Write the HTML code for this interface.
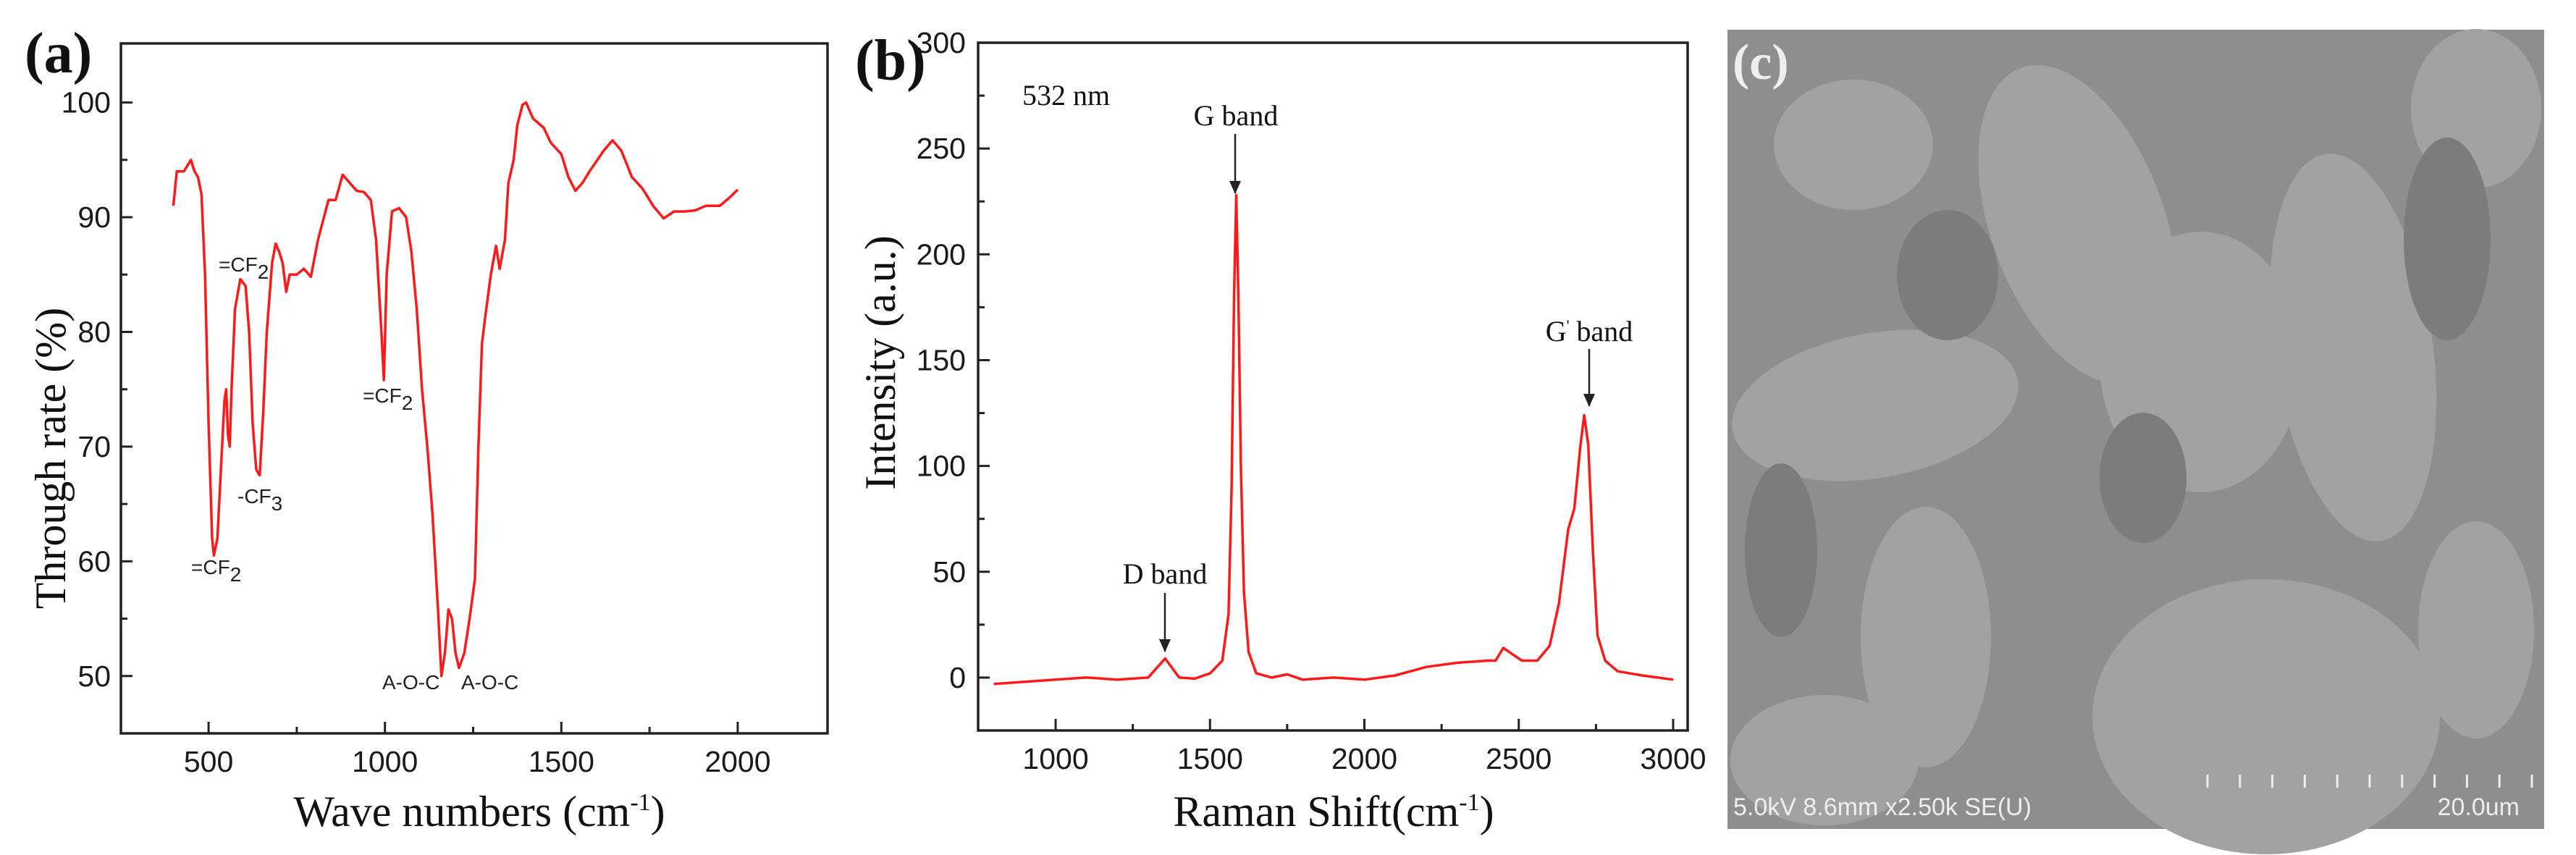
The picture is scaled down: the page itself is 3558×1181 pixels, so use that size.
<!DOCTYPE html>
<html><head><meta charset="utf-8">
<style>
html,body{margin:0;padding:0;background:#fff;}
svg{display:block;}
.tk{font-family:"Liberation Sans",sans-serif;font-size:41px;fill:#1a1a1a;}
.ttl{font-family:"Liberation Serif",serif;font-size:60px;fill:#111;}
.ann{font-family:"Liberation Sans",sans-serif;font-size:28px;fill:#222;}
.anr{font-family:"Liberation Serif",serif;font-size:40px;fill:#111;}
.pl{font-family:"Liberation Serif",serif;font-weight:bold;font-size:80px;fill:#111;}
</style></head>
<body>
<svg id="fig" width="3558" height="1181" viewBox="0 0 3558 1181" xmlns="http://www.w3.org/2000/svg">
<defs><marker id="ah" markerWidth="18" markerHeight="16" refX="17" refY="8" orient="auto" markerUnits="userSpaceOnUse"><path d="M0,0 L18,8 L0,16 Z" fill="#222"/></marker></defs>
<g id="pa"></g>
<g id="pb"></g>
<g id="pc">
<rect x="2386" y="41" width="1128" height="1104" fill="#8e8e8e"/>
<g fill="#a2a2a2">
<ellipse cx="2870" cy="310" rx="120" ry="230" transform="rotate(-20 2870 310)"/>
<ellipse cx="3250" cy="480" rx="110" ry="270" transform="rotate(-8 3250 480)"/>
<ellipse cx="3130" cy="990" rx="240" ry="190"/>
<ellipse cx="2590" cy="560" rx="200" ry="100" transform="rotate(-10 2590 560)"/>
<ellipse cx="3040" cy="500" rx="140" ry="180"/>
<ellipse cx="2560" cy="200" rx="110" ry="90"/>
<ellipse cx="3420" cy="150" rx="90" ry="110"/>
<ellipse cx="2660" cy="880" rx="90" ry="180"/>
<ellipse cx="3420" cy="870" rx="80" ry="150"/>
<ellipse cx="2520" cy="1050" rx="130" ry="90"/>
</g>
<g fill="#7c7c7c">
<ellipse cx="2690" cy="380" rx="70" ry="90"/>
<ellipse cx="2960" cy="660" rx="60" ry="90"/>
<ellipse cx="3380" cy="330" rx="60" ry="140"/>
<ellipse cx="2460" cy="760" rx="50" ry="120"/>
</g>
<text x="2393" y="109" class="pl" style="fill:#eee;font-size:70px">(c)</text>
<text x="2394" y="1126" style="font-family:'Liberation Sans',sans-serif;font-size:34px;fill:#eee">5.0kV 8.6mm x2.50k SE(U)</text>
<text x="3480" y="1126" text-anchor="end" style="font-family:'Liberation Sans',sans-serif;font-size:34px;fill:#eee">20.0um</text>
<g id="sb" stroke="#eee" stroke-width="3"></g>
</g>
</svg>
<script>
// ---- FTIR data (panel a)
const ftirX=[400,410,430,450,460,470,480,490,500,510,515,525,535,545,550,555,560,565,575,590,605,615,625,635,645,655,665,680,690,700,710,720,730,750,770,790,810,840,860,880,900,920,940,960,975,990,997,1005,1020,1040,1060,1075,1090,1105,1120,1135,1150,1160,1170,1180,1190,1200,1210,1225,1240,1255,1265,1275,1285,1300,1315,1325,1340,1350,1365,1375,1390,1400,1420,1450,1470,1500,1520,1540,1560,1580,1620,1645,1670,1700,1730,1760,1790,1820,1850,1880,1910,1950,1980,2000];
const ftirY=[91,94,94,95,94,93.5,92,85,72,62,60.5,62,68,74,75,71,70,75,82,84.6,84,80,72,68,67.5,73,80,86,87.7,87,86,83.5,85,85,85.5,84.8,88,91.5,91.5,93.7,93,92.3,92.2,91.5,88,80,75.8,85,90.5,90.8,90,87,82,75,70,64,56,50,52,55.8,55,52,50.7,52,55,58.5,70,79,81.5,85,87.5,85.5,88,93,95,98,99.8,100,98.6,97.8,96.5,95.5,93.5,92.3,93,94,95.8,96.7,95.8,93.5,92.5,91,89.9,90.5,90.5,90.6,91,91,91.8,92.4];
const ftirXTicks=[500,1000,1500,2000];
const ftirYTicks=[50,60,70,80,90,100];
// ---- Raman data (panel b)
const ramX=[800,900,1000,1100,1200,1300,1330,1355,1375,1400,1450,1500,1540,1560,1570,1578,1585,1592,1600,1610,1625,1650,1700,1750,1800,1900,2000,2100,2200,2300,2400,2425,2450,2480,2510,2560,2600,2630,2660,2680,2700,2712,2725,2740,2755,2780,2820,2900,3000];
const ramY=[-3,-2,-1,0,-1,0,5,9,5,0,-0.5,2,8,30,90,180,228,180,100,40,12,2,0,1.5,-1,0,-1,1,5,7,8,8,14,11,8,8,15,35,70,80,110,124,110,60,20,8,3,1,-1];
const ramXTicks=[1000,1500,2000,2500,3000];
const ramYTicks=[0,50,100,150,200,250,300];

const NS='http://www.w3.org/2000/svg';
function mk(parent,tag,attrs,text){const e=document.createElementNS(NS,tag);for(const k in attrs)e.setAttribute(k,attrs[k]);if(text!==undefined)e.textContent=text;parent.appendChild(e);return e;}

function panel(g,box,xd,yd,xt,xminor,yt,yminor,xs,ys,xlabY,ylabX){
  const sx=v=>box.l+(v-xd[0])/(xd[1]-xd[0])*(box.r-box.l);
  const sy=v=>box.b-(v-yd[0])/(yd[1]-yd[0])*(box.b-box.t);
  const frame=mk(g,'rect',{x:box.l,y:box.t,width:box.r-box.l,height:box.b-box.t,fill:'none',stroke:'#222','stroke-width':3.5});
  
  
  xt.forEach(v=>{const l=mk(g,'line',{x1:sx(v),x2:sx(v),y1:box.b,y2:box.b-16,stroke:'#222','stroke-width':3});
    
    
    const t=mk(g,'text',{x:sx(v),y:xlabY,'text-anchor':'middle',class:'tk'},String(v));
    
    });
  xminor.forEach(v=>{const l=mk(g,'line',{x1:sx(v),x2:sx(v),y1:box.b,y2:box.b-9,stroke:'#222','stroke-width':3});
    
    });
  yt.forEach(v=>{const l=mk(g,'line',{x1:box.l,x2:box.l+16,y1:sy(v),y2:sy(v),stroke:'#222','stroke-width':3});
    
    
    const t=mk(g,'text',{x:ylabX,y:sy(v)+14,'text-anchor':'end',class:'tk'},String(v));
    
    });
  yminor.forEach(v=>{const l=mk(g,'line',{x1:box.l,x2:box.l+9,y1:sy(v),y2:sy(v),stroke:'#222','stroke-width':3});
    
    });
  let d='';xs.forEach((v,i)=>{d+=(i?'L':'M')+sx(v).toFixed(1)+','+sy(ys[i]).toFixed(1);});
  const p=mk(g,'path',{d:d,fill:'none',stroke:'#ff1a1a','stroke-width':3.5,'stroke-linejoin':'round'});
  
  
  return {sx,sy};
}

const ga=document.getElementById('pa');
panel(ga,{l:167,r:1143,t:60,b:1013},[251.5,2254.6],[45,105.15],ftirXTicks,[750,1250,1750],ftirYTicks,[55,65,75,85,95],ftirX,ftirY,1066,153);
const gb=document.getElementById('pb');
panel(gb,{l:1351,r:2331,t:59,b:1009},[749,3047],[-25,300],ramXTicks,[1250,1750,2250,2750],ramYTicks,[25,75,125,175,225,275],ramX,ramY,1062,1334);

function txt(g,x,y,cls,s,name,anchor,extra){const t=mk(g,'text',Object.assign({x:x,y:y,class:cls,'text-anchor':anchor||'start'},extra||{}));t.innerHTML=s;
  
  return t;}
// panel a texts
txt(ga,34,100,'pl','(a)','panel-label-a');
txt(ga,662,1141,'ttl','Wave numbers (cm<tspan dy="-22" font-size="34">-1</tspan><tspan dy="22">)</tspan>','x-axis-title','middle');
txt(ga,0,0,'ttl','Through rate (%)','y-axis-title','middle',{transform:'translate(90,633) rotate(-90)'});
txt(ga,302,375,'ann','=CF<tspan dy="10">2</tspan>','label-cf2-585');
txt(ga,501,556,'ann','=CF<tspan dy="10">2</tspan>','label-cf2-990');
txt(ga,328,695,'ann','-CF<tspan dy="10">3</tspan>','label-cf3');
txt(ga,264,793,'ann','=CF<tspan dy="10">2</tspan>','label-cf2-510');
txt(ga,528,952,'ann','A-O-C','label-aoc-1');
txt(ga,637,952,'ann','A-O-C','label-aoc-2');
// panel b texts
txt(gb,1181,110,'pl','(b)','panel-label-b');
txt(gb,1842,1141,'ttl','Raman Shift(cm<tspan dy="-22" font-size="34">-1</tspan><tspan dy="22">)</tspan>','x-axis-title','middle');
txt(gb,0,0,'ttl','Intensity (a.u.)','y-axis-title','middle',{transform:'translate(1236,501) rotate(-90)'});
txt(gb,1412,145,'anr','532 nm','laser-label');
txt(gb,1707,173,'anr','G band','g-band-label','middle');
txt(gb,1609,806,'anr','D band','d-band-label','middle');
txt(gb,2195,471,'anr','G<tspan dy="-14" font-size="22">\'</tspan><tspan dy="14"> band</tspan>','g-prime-band-label','middle');
[[1706,185,267,'g-band-arrow'],[1609,819,900,'d-band-arrow'],[2195,482,561,'g-prime-band-arrow']].forEach(a=>{
  const l=mk(gb,'line',{x1:a[0],x2:a[0],y1:a[1],y2:a[2],stroke:'#222','stroke-width':2.5,'marker-end':'url(#ah)'});
  
  });
// scale bar ticks
const sb=document.getElementById('sb');
for(let i=0;i<=10;i++){const x=3049+i*44.8;const l=mk(sb,'line',{x1:x,x2:x,y1:1070,y2:1088});
  
  }
</script>
</body></html>
